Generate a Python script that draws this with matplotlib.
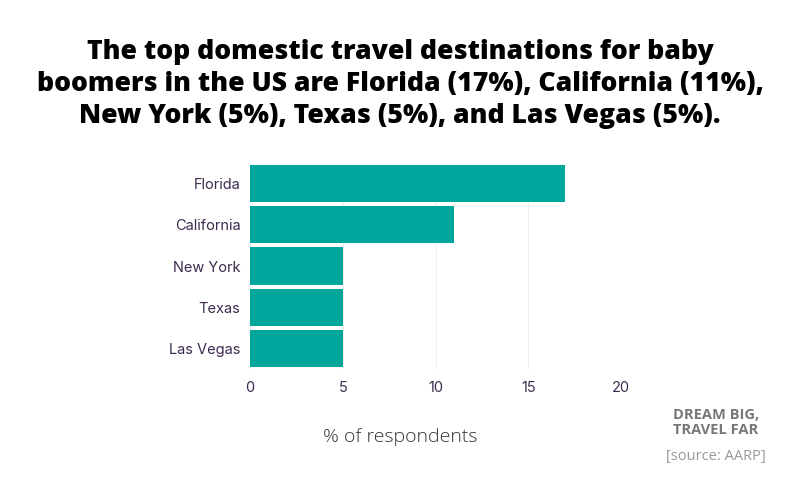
import matplotlib.pyplot as plt

# data
places = ['Florida', 'California', 'New York', 'Texas', 'Las Vegas']
share = [17, 11, 5, 5, 5]
x_ticks = [0, 5, 10, 15, 20]

title = ('The top domestic travel destinations for baby\n'
         'boomers in the US are Florida (17%), California (11%),\n'
         'New York (5%), Texas (5%), and Las Vegas (5%).')

teal = '#00a69c'
label_col = '#3d2a4e'

fig = plt.figure(figsize=(8, 5), dpi=100)
fig.patch.set_facecolor('white')

ax = fig.add_axes([0.3125, 0.262, 0.4638, 0.412])
ypos = range(len(places))
ax.barh(ypos, share, height=0.9, color=teal, zorder=3)
ax.set_ylim(len(places) - 0.5, -0.5)
ax.set_xlim(0, 20)
ax.set_yticks(list(ypos))
ax.set_yticklabels(places, fontfamily='Inter', fontsize=10.5, color=label_col)
ax.set_xticks(x_ticks)
ax.set_xticklabels([str(t) for t in x_ticks], fontfamily='Inter', fontsize=10.5,
                   color=label_col)
ax.tick_params(length=0, pad=7)
ax.tick_params(axis='x', pad=9)
for s in ax.spines.values():
    s.set_visible(False)
ax.grid(axis='x', color='#f0f0f0', linewidth=0.8, zorder=0)

fig.text(0.5, 0.832, title, ha='center', va='center', fontfamily='Open Sans',
         fontweight='heavy', fontsize=19.2, linespacing=1.3, color='black')
fig.text(0.5, 0.126, '% of respondents', ha='center', va='center',
         fontfamily='Open Sans', fontweight='light', fontsize=14, color='#333333')
fig.text(0.895, 0.155, 'DREAM BIG,\nTRAVEL FAR', ha='center', va='center',
         fontfamily='Open Sans', fontweight='bold', fontsize=10.5,
         color='#777777', linespacing=1.05)
fig.text(0.895, 0.087, '[source: AARP]', ha='center', va='center',
         fontfamily='Open Sans', fontsize=10.5, color='#999999')

fig.savefig('out.png', dpi=100, facecolor='white')
